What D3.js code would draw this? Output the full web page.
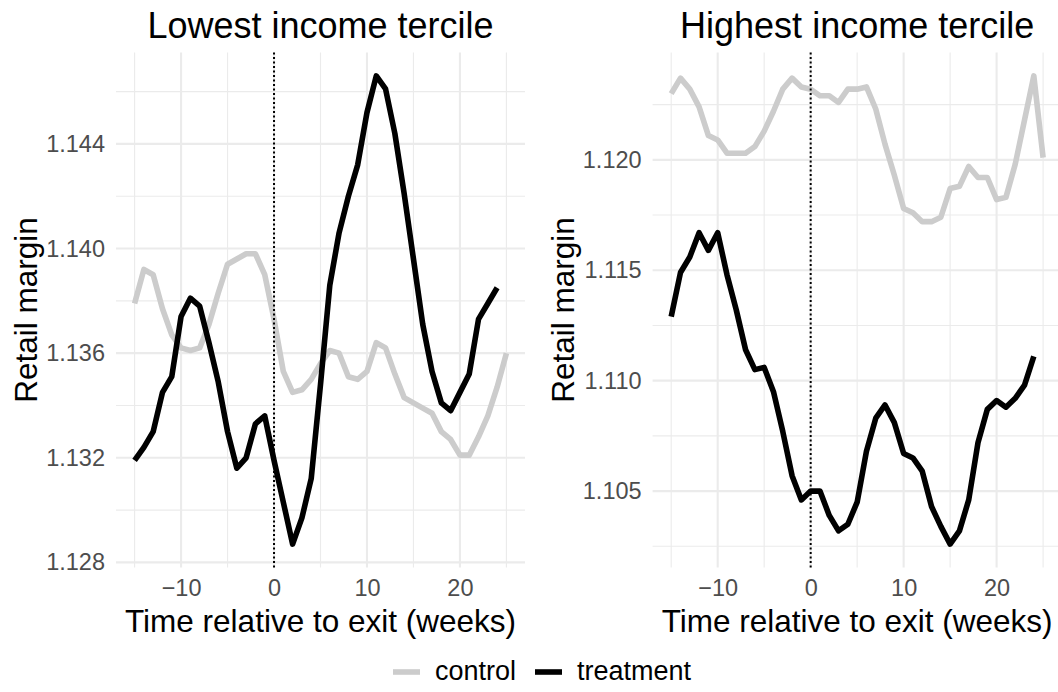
<!DOCTYPE html>
<html>
<head>
<meta charset="utf-8">
<script src="https://cdn.jsdelivr.net/npm/d3@7"></script>
<style>
  body { margin: 0; background: #fff; }
  svg { display: block; }
  text { font-family: "Liberation Sans", Arial, Helvetica, sans-serif; }
</style>
</head>
<body>
<svg id="chart" width="1058" height="692"></svg>
<script>
// Weeks relative to store exit
const weeks = [-15, -14, -13, -12, -11, -10, -9, -8, -7, -6, -5, -4, -3, -2, -1,
  0, 1, 2, 3, 4, 5, 6, 7, 8, 9, 10, 11, 12, 13, 14, 15, 16, 17, 18, 19, 20,
  21, 22, 23, 24, 25];

// Lowest income tercile (weeks -15..25 for control, -15..24 for treatment)
const lowControl = [1.1379, 1.1392, 1.1390, 1.1377, 1.1367, 1.1362, 1.1361, 1.1362,
  1.1371, 1.1383, 1.1394, 1.1396, 1.1398, 1.1398, 1.1390, 1.1373, 1.1353, 1.1345,
  1.1346, 1.1350, 1.1356, 1.1361, 1.1360, 1.1351, 1.1350, 1.1353, 1.1364, 1.1362,
  1.1352, 1.1343, 1.1341, 1.1339, 1.1337, 1.1330, 1.1327, 1.1321, 1.1321, 1.1328,
  1.1336, 1.1347, 1.1360];
const lowTreatment = [1.1319, 1.1324, 1.1330, 1.1345, 1.1351, 1.1374, 1.1381, 1.1378,
  1.1364, 1.1349, 1.1330, 1.1316, 1.1320, 1.1333, 1.1336, 1.1319, 1.1303, 1.1287,
  1.1297, 1.1312, 1.1348, 1.1386, 1.1406, 1.1420, 1.1432, 1.1452, 1.1466, 1.1461,
  1.1444, 1.1421, 1.1396, 1.1371, 1.1353, 1.1341, 1.1338, 1.1345, 1.1352, 1.1373,
  1.1379, 1.1385];

// Highest income tercile
const highControl = [1.1230, 1.1237, 1.1232, 1.1224, 1.1211, 1.1209, 1.1203, 1.1203,
  1.1203, 1.1206, 1.1213, 1.1222, 1.1232, 1.1237, 1.1233, 1.1232, 1.1229, 1.1229,
  1.1226, 1.1232, 1.1232, 1.1233, 1.1223, 1.1207, 1.1193, 1.1178, 1.1176, 1.1172,
  1.1172, 1.1174, 1.1187, 1.1188, 1.1197, 1.1192, 1.1192, 1.1182, 1.1183, 1.1198,
  1.1218, 1.1238, 1.1201];
const highTreatment = [1.1129, 1.1149, 1.1156, 1.1167, 1.1159, 1.1167, 1.1148, 1.1132,
  1.1114, 1.1105, 1.1106, 1.1095, 1.1077, 1.1057, 1.1046, 1.1050, 1.1050, 1.1039,
  1.1032, 1.1035, 1.1045, 1.1068, 1.1083, 1.1089, 1.1081, 1.1067, 1.1065, 1.1059,
  1.1043, 1.1034, 1.1026, 1.1032, 1.1046, 1.1072, 1.1087, 1.1091, 1.1088, 1.1092,
  1.1098, 1.1111];

const panelTitles = ["Lowest income tercile", "Highest income tercile"];
const xTicks = [-10, 0, 10, 20];
const xMinorTicks = [-15, -5, 5, 15, 25];
const lowYTicks = [1.128, 1.132, 1.136, 1.140, 1.144];
const lowYMinorTicks = [1.130, 1.134, 1.138, 1.142, 1.146];
const highYTicks = [1.105, 1.110, 1.115, 1.120];
const highYMinorTicks = [1.1025, 1.1075, 1.1125, 1.1175, 1.1225];
const seriesNames = ["control", "treatment"];
const seriesColors = ["#cccccc", "#000000"];
const xAxisTitle = "Time relative to exit (weeks)";
const yAxisTitle = "Retail margin";

const svg = d3.select("#chart");

const panels = [
  { title: panelTitles[0], left: 116, right: 525, ylab: 37,
    series: [lowControl, lowTreatment], yTicks: lowYTicks, yMinor: lowYMinorTicks },
  { title: panelTitles[1], left: 652.6, right: 1061.7, ylab: 574,
    series: [highControl, highTreatment], yTicks: highYTicks, yMinor: highYMinorTicks }
];
const panelTop = 52.5, panelBottom = 567.5;

// ggplot-style 5% expansion of a continuous range
function expand(ext) {
  const pad = (ext[1] - ext[0]) * 0.05;
  return [ext[0] - pad, ext[1] + pad];
}

panels.forEach(p => {
  const g = svg.append("g");
  const x = d3.scaleLinear().domain(expand(d3.extent(weeks))).range([p.left, p.right]);
  const allY = p.series.flat();
  const y = d3.scaleLinear().domain(expand(d3.extent(allY))).range([panelBottom, panelTop]);

  // grid
  const grid = g.append("g").attr("stroke", "#ebebeb").attr("fill", "none");
  grid.selectAll(".ymin").data(p.yMinor).join("line")
    .attr("x1", p.left).attr("x2", p.right)
    .attr("y1", d => y(d)).attr("y2", d => y(d)).attr("stroke-width", 1.1);
  grid.selectAll(".xmin").data(xMinorTicks).join("line")
    .attr("y1", panelTop).attr("y2", panelBottom)
    .attr("x1", d => x(d)).attr("x2", d => x(d)).attr("stroke-width", 1.1);
  grid.selectAll(".ymaj").data(p.yTicks).join("line")
    .attr("x1", p.left).attr("x2", p.right)
    .attr("y1", d => y(d)).attr("y2", d => y(d)).attr("stroke-width", 2.1);
  grid.selectAll(".xmaj").data(xTicks).join("line")
    .attr("y1", panelTop).attr("y2", panelBottom)
    .attr("x1", d => x(d)).attr("x2", d => x(d)).attr("stroke-width", 2.1);

  // axes (labels only)
  const yAxis = g.append("g").attr("transform", `translate(${p.left},0)`)
    .call(d3.axisLeft(y).tickValues(p.yTicks).tickFormat(d3.format(".3f")).tickSize(0).tickPadding(11));
  const xAxis = g.append("g").attr("transform", `translate(0,${panelBottom})`)
    .call(d3.axisBottom(x).tickValues(xTicks).tickSize(0).tickPadding(12));
  [yAxis, xAxis].forEach(a => {
    a.select(".domain").remove();
    a.selectAll("text").attr("fill", "#4d4d4d").style("font-size", "23.5px")
      .style("font-family", '"Liberation Sans", Arial, sans-serif');
  });

  // series lines
  const line = d3.line().x((d, i) => x(weeks[i])).y(d => y(d));
  p.series.forEach((s, k) => {
    g.append("path").datum(s).attr("d", line)
      .attr("fill", "none").attr("stroke", seriesColors[k])
      .attr("stroke-width", 5.6).attr("stroke-linejoin", "round").attr("stroke-linecap", "butt");
  });

  // exit marker
  g.append("line").attr("x1", x(0)).attr("x2", x(0)).attr("y1", panelTop).attr("y2", panelBottom)
    .attr("stroke", "#000").attr("stroke-width", 2).attr("stroke-dasharray", "2,2.5");

  // titles
  const cx = (p.left + p.right) / 2;
  g.append("text").attr("x", cx).attr("y", 38).attr("text-anchor", "middle")
    .style("font-size", "36px").text(p.title);
  g.append("text").attr("x", cx).attr("y", 632).attr("text-anchor", "middle")
    .style("font-size", "31.5px").text(xAxisTitle);
  g.append("text").attr("transform", `translate(${p.ylab},${(panelTop + panelBottom) / 2}) rotate(-90)`)
    .attr("text-anchor", "middle").style("font-size", "31.5px").text(yAxisTitle);
});

// legend
const legendItems = [
  { keyX: 393, textX: 435 },
  { keyX: 535, textX: 577 }
];
const legend = svg.append("g");
seriesNames.forEach((name, i) => {
  legend.append("line").attr("x1", legendItems[i].keyX).attr("x2", legendItems[i].keyX + 27)
    .attr("y1", 672).attr("y2", 672).attr("stroke", seriesColors[i]).attr("stroke-width", 5.6);
  legend.append("text").attr("x", legendItems[i].textX).attr("y", 680)
    .style("font-size", "27px").text(name);
});
</script>
</body>
</html>
